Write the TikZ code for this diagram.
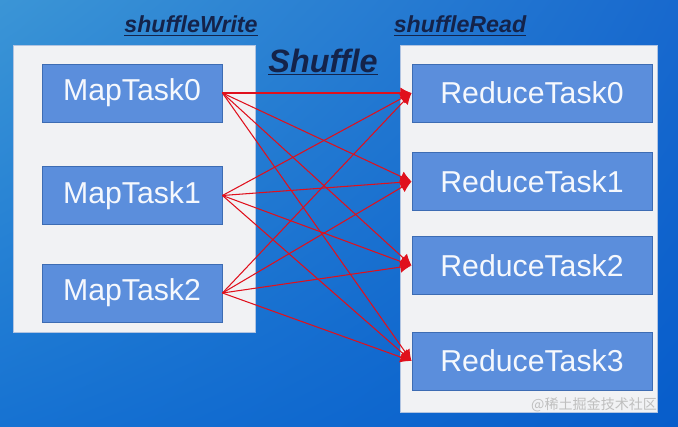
\documentclass[tikz,border=0pt]{standalone}
\usepackage{fontspec}
\setmainfont{Liberation Sans}
\newfontfamily\cjk{Noto Sans CJK SC}
\usepackage{tikz}
\usetikzlibrary{arrows.meta, positioning, shapes, shadings}
\definecolor{bgTL}{HTML}{3B95D6}
\definecolor{bgTR}{HTML}{1869CE}
\definecolor{bgBL}{HTML}{1672D2}
\definecolor{bgBR}{HTML}{075DCB}
\definecolor{panelG}{HTML}{F1F2F4}
\definecolor{taskB}{HTML}{5B8EDC}
\definecolor{taskD}{HTML}{3D6CB3}
\definecolor{navyT}{HTML}{14234A}
\definecolor{arrR}{HTML}{E0101C}
\tikzset{
  panel/.style={draw=taskD!40, fill=panelG, line width=0.5pt},
  mapT/.style={rectangle, draw=taskD, fill=taskB, line width=0.6pt,
               minimum width=4.5cm, minimum height=1.45cm,
               font=\fontsize{21.5}{24}\selectfont, text=white!94!taskB},
  redT/.style={rectangle, draw=taskD, fill=taskB, line width=0.6pt,
               minimum width=6cm, minimum height=1.45cm,
               font=\fontsize{21.5}{24}\selectfont, text=white!94!taskB},
  headT/.style={font=\bfseries\itshape\fontsize{16.5}{19}\selectfont, text=navyT},
  shufT/.style={font=\bfseries\itshape\fontsize{23}{27}\selectfont, text=navyT},
  arr/.style={draw=arrR, line width=0.75pt, -{Latex[length=8pt, width=8pt]}},
}
\begin{document}
\begin{tikzpicture}[x=0.025cm, y=-0.025cm]
    %% background
    \useasboundingbox (0,0) rectangle (678,427);
    \shade[upper left=bgTL, upper right=bgTR, lower left=bgBL, lower right=bgBR]
      (0,0) rectangle (678,427);
    %% panels
    \draw[panel] (13,45) rectangle (255,332);
    \draw[panel] (400,45) rectangle (657,412);
    %% headings
    \node[headT] (wr) at (191,26) {\underline{shuffleWrite}};
    \node[headT] (rd) at (460,26) {\underline{shuffleRead}};
    \node[shufT] (sh) at (323,62) {\underline{Shuffle}};
    %% map tasks
    \node[mapT] (m0) at (132,93)    {MapTask0};
    \node[mapT] (m1) at (132,195.5) {MapTask1};
    \node[mapT] (m2) at (132,293)   {MapTask2};
    %% reduce tasks
    \node[redT] (r0) at (532,93)    {ReduceTask0};
    \node[redT] (r1) at (532,181.5) {ReduceTask1};
    \node[redT] (r2) at (532,265.5) {ReduceTask2};
    \node[redT] (r3) at (532,361)   {ReduceTask3};
    %% all to all
    \draw[arr] (m0.east)--(r0.west);
    \draw[arr] (m0.east)--(r1.west);
    \draw[arr] (m0.east)--(r2.west);
    \draw[arr] (m0.east)--(r3.west);
    \draw[arr] (m1.east)--(r0.west);
    \draw[arr] (m1.east)--(r1.west);
    \draw[arr] (m1.east)--(r2.west);
    \draw[arr] (m1.east)--(r3.west);
    \draw[arr] (m2.east)--(r0.west);
    \draw[arr] (m2.east)--(r1.west);
    \draw[arr] (m2.east)--(r2.west);
    \draw[arr] (m2.east)--(r3.west);
    %% watermark
    \node[font=\cjk\fontsize{10}{12}\selectfont, text=gray!50, anchor=east]
      (wm) at (662,405) {@稀土掘金技术社区};
  \end{tikzpicture}
\end{document}
